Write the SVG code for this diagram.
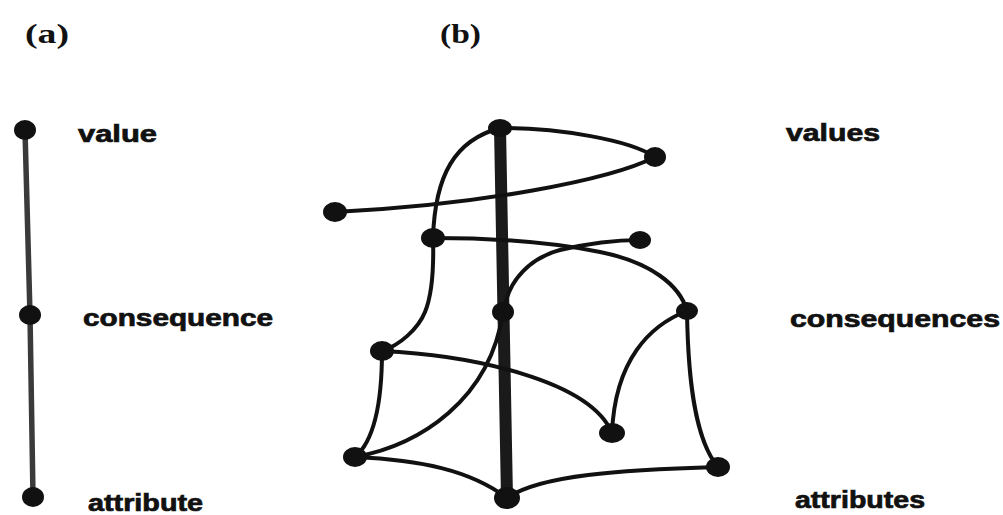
<svg xmlns="http://www.w3.org/2000/svg" width="1003" height="515" viewBox="0 0 1003 515">
<style>
.lbl{font-family:"Liberation Sans",Arial,sans-serif;font-weight:bold;font-size:23px;fill:#111;stroke:#111;stroke-width:0.7}
.hd{font-family:"Liberation Serif","Times New Roman",serif;font-weight:bold;font-size:27px;fill:#111}
.node{fill:#111}
.edge{fill:none;stroke:#111;stroke-width:4;stroke-linecap:round}
.pole{fill:none;stroke:#1a1a1a;stroke-width:12}
.chain{fill:none;stroke:#3a3a3a;stroke-width:5.5}
</style>
<rect width="1003" height="515" fill="#fff"/>
<text class="hd" x="25" y="43" textLength="44" lengthAdjust="spacingAndGlyphs">(a)</text>
<text class="hd" x="440" y="43" textLength="41" lengthAdjust="spacingAndGlyphs">(b)</text>

<g id="connectors">
  <path class="chain" d="M25,130 L30,315 L33,497"/>
  <path class="pole" d="M500,128 L507,498"/>
  <path class="edge" d="M500,128 C560,128 630,140 655,157"/>
  <path class="edge" d="M655,157 C610,180 480,205 335,212"/>
  <path class="edge" d="M500,128 C455,140 435,175 433,238"/>
  <path class="edge" d="M433,238 C434,270 432,295 425,312 S400,345 382,351"/>
  <path class="edge" d="M433,238 C480,238 540,240 600,252 C650,262 680,285 687,311"/>
  <path class="edge" d="M505,305 C510,280 530,258 560,250 C590,243 620,240 640,240"/>
  <path class="edge" d="M687,311 C650,325 615,360 612,433"/>
  <path class="edge" d="M687,311 C688,380 695,440 718,467"/>
  <path class="edge" d="M382,351 C470,355 590,380 612,433"/>
  <path class="edge" d="M382,351 C382,400 375,440 355,457"/>
  <path class="edge" d="M355,457 C420,445 490,400 503,312"/>
  <path class="edge" d="M355,457 C420,460 470,470 507,498"/>
  <path class="edge" d="M507,498 C540,475 620,470 718,467"/>
</g>

<g id="a-value"><ellipse class="node" cx="25" cy="130" rx="11" ry="10"/><text class="lbl" x="78" y="142" textLength="79" lengthAdjust="spacingAndGlyphs">value</text></g>
<g id="a-consequence"><ellipse class="node" cx="30" cy="315" rx="11" ry="10"/><text class="lbl" x="83" y="326" textLength="190" lengthAdjust="spacingAndGlyphs">consequence</text></g>
<g id="a-attribute"><ellipse class="node" cx="33" cy="497" rx="11" ry="10"/><text class="lbl" x="88" y="511" textLength="115" lengthAdjust="spacingAndGlyphs">attribute</text></g>

<g id="b-values"><text class="lbl" x="786" y="141" textLength="94" lengthAdjust="spacingAndGlyphs">values</text></g>
<g id="b-consequences"><text class="lbl" x="790" y="327" textLength="210" lengthAdjust="spacingAndGlyphs">consequences</text></g>
<g id="b-attributes"><text class="lbl" x="795" y="508" textLength="130" lengthAdjust="spacingAndGlyphs">attributes</text></g>

<g id="v1"><ellipse class="node" cx="500" cy="128" rx="12" ry="9"/></g>
<g id="v2"><ellipse class="node" cx="655" cy="157" rx="11" ry="10"/></g>
<g id="v3"><ellipse class="node" cx="335" cy="212" rx="12" ry="10"/></g>
<g id="v4"><ellipse class="node" cx="433" cy="238" rx="12" ry="10"/></g>
<g id="v5"><ellipse class="node" cx="640" cy="240" rx="11" ry="9"/></g>
<g id="c1"><ellipse class="node" cx="503" cy="312" rx="11" ry="10"/></g>
<g id="c2"><ellipse class="node" cx="687" cy="311" rx="11" ry="9"/></g>
<g id="c3"><ellipse class="node" cx="382" cy="351" rx="12" ry="10"/></g>
<g id="c4"><ellipse class="node" cx="612" cy="433" rx="13" ry="10"/></g>
<g id="a1"><ellipse class="node" cx="355" cy="457" rx="12" ry="10"/></g>
<g id="a2"><ellipse class="node" cx="718" cy="467" rx="12" ry="10"/></g>
<g id="a3"><ellipse class="node" cx="507" cy="498" rx="13" ry="11"/></g>
</svg>
